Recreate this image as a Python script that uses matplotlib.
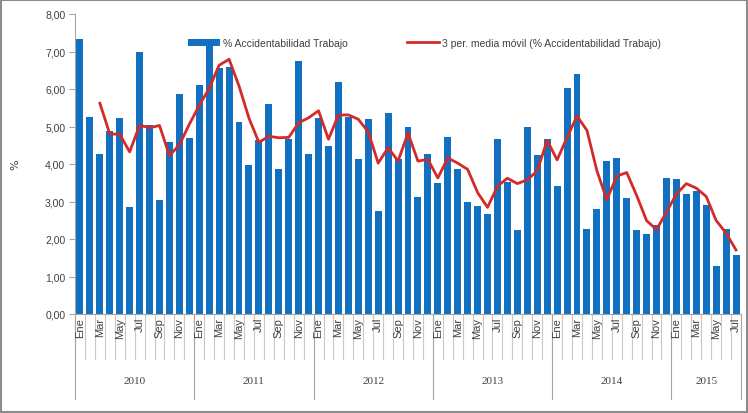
import matplotlib.pyplot as plt
import matplotlib.transforms as mtransforms
from matplotlib.patches import Rectangle
import pandas as pd

# monthly values, Ene 2010 .. Jul 2015
months = ['Ene', 'Feb', 'Mar', 'Abr', 'May', 'Jun', 'Jul', 'Ago', 'Sep', 'Oct', 'Nov', 'Dic']
years = ['2010', '2011', '2012', '2013', '2014', '2015']
months_per_year = [12, 12, 12, 12, 12, 7]

acc_2010 = [7.33, 5.26, 4.27, 4.87, 5.24, 2.86, 7.00, 5.04, 3.04, 4.60, 5.88, 4.70]
acc_2011 = [6.10, 7.25, 6.55, 6.58, 5.11, 3.98, 4.64, 5.60, 3.86, 4.67, 6.76, 4.27]
acc_2012 = [5.23, 4.48, 6.20, 5.25, 4.13, 5.19, 2.75, 5.36, 4.13, 4.98, 3.12, 4.27]
acc_2013 = [3.49, 4.72, 3.86, 2.99, 2.87, 2.67, 4.68, 3.51, 2.24, 4.98, 4.23, 4.68]
acc_2014 = [3.42, 6.02, 6.40, 2.27, 2.80, 4.07, 4.15, 3.10, 2.24, 2.13, 2.38, 3.63]
acc_2015 = [3.59, 3.21, 3.27, 2.92, 1.29, 2.26, 1.57]

values = acc_2010 + acc_2011 + acc_2012 + acc_2013 + acc_2014 + acc_2015
labels = []
for n in months_per_year:
    labels += months[:n]

# 3 period moving average, as the excel trendline
mov_avg = pd.Series(values).rolling(3).mean()

bar_color = '#1170BF'
line_color = '#D42A2A'
grey = '#A6A6A6'
txt = '#404040'

fig = plt.figure(figsize=(7.48, 4.14), dpi=100)
ax = fig.add_axes([75/748, 1-315/414, (741-75)/748, 300/414])

x = list(range(len(values)))
bars = ax.bar(x, values, width=0.7, color=bar_color, label='% Accidentabilidad Trabajo', zorder=2)
line, = ax.plot(x, mov_avg, color=line_color, lw=2, label='3 per. media móvil (% Accidentabilidad Trabajo)', zorder=3)

ax.set_xlim(-0.5, len(values) - 0.5)
ax.set_ylim(0, 8)
ax.set_yticks(range(0, 9))
ax.set_yticklabels(['%d,00' % v for v in range(0, 9)], fontsize=7.5, color=txt, family='Liberation Sans')
ax.tick_params(axis='y', length=4, color=grey, pad=3)
ax.set_xticks([])
ax.set_ylabel('%', fontsize=8, color=txt, labelpad=18)
for s in ['top', 'right']:
    ax.spines[s].set_visible(False)
ax.spines['left'].set_color(grey)
ax.spines['bottom'].set_color(grey)

# category axis: months, separators and year groups
trans = mtransforms.blended_transform_factory(ax.transData, ax.transAxes)
for i in range(len(values) + 1):
    ax.plot([i - 0.5, i - 0.5], [0, -0.15], color='#C8C8C8', lw=0.8, transform=trans, clip_on=False)
for i, lab in enumerate(labels):
    if i % 2 == 0:
        ax.text(i, -0.01, lab, rotation=90, ha='center', va='top', fontsize=8,
                color=txt, family='Liberation Sans', transform=trans)
start = 0
for yr, n in zip(years, months_per_year):
    ax.plot([start - 0.5, start - 0.5], [0, -0.283], color=grey, lw=0.8, transform=trans, clip_on=False)
    ax.text(start + (n - 1) / 2, -0.223, yr, ha='center', va='center', fontsize=8,
            color=txt, family='Liberation Serif', transform=trans)
    start += n
ax.plot([start - 0.5, start - 0.5], [0, -0.283], color=grey, lw=0.8, transform=trans, clip_on=False)

leg = ax.legend([bars, line], [bars.get_label(), line.get_label()], ncol=2, frameon=False,
                loc='center left', bbox_to_anchor=(188/748, 1-44/414),
                bbox_transform=fig.transFigure, borderpad=0, borderaxespad=0, handlelength=3.1,
                handletextpad=0.3, columnspacing=5.6, prop={'family': 'Liberation Sans', 'size': 7.5})
for t in leg.get_texts():
    t.set_color(txt)

fig.patches.append(Rectangle((0.002, 0.003), 0.996, 0.994, transform=fig.transFigure,
                             fill=False, edgecolor='#8C8C8C', lw=1.5))

fig.savefig('out.png', dpi=100)
